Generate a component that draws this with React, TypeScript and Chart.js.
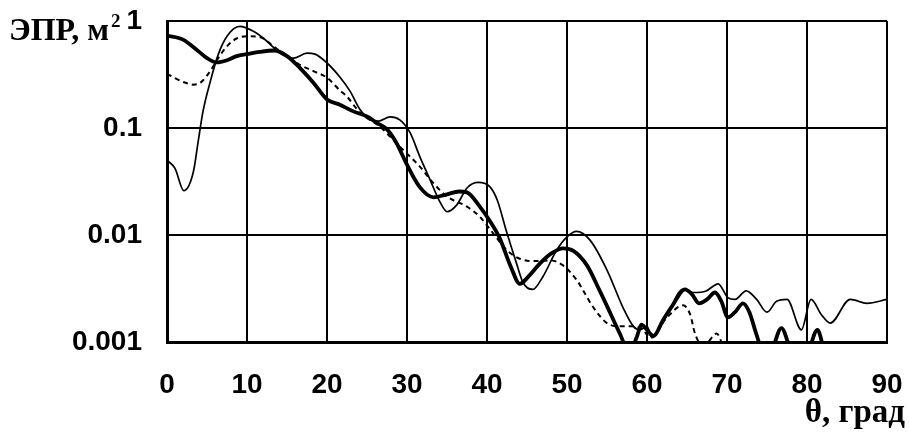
import React, { useEffect, useRef } from "react";
import { Chart, registerables } from "chart.js";

Chart.register(...registerables);

// Thick solid curve
const thickAngles = [0, 2, 3.7, 5, 6.2, 7.5, 8.7, 10, 11.6, 13.4, 15, 16.6, 18.3, 20, 21.6, 23.3, 25, 26.2, 27.5, 28.7, 29.9, 31.6, 33.3, 35, 36.5, 37.5, 39.1, 40.5, 41.6, 43, 44.1, 45.2, 46.6, 48, 49.5, 50.8, 52.5, 54.1, 55.5, 56.6, 57.8, 58.7, 59.3, 60, 60.8, 62, 63.2, 64.75, 65.6, 66.5, 67.5, 68.5, 69.3, 70.1, 71, 72, 72.8, 73.5, 74.3, 75.2, 76, 76.8, 77.6, 78.4, 79.5, 80.5, 81.3, 82.1, 83];
const thickValues = [0.73, 0.67, 0.54, 0.45, 0.41, 0.43, 0.47, 0.49, 0.515, 0.53, 0.47, 0.365, 0.265, 0.185, 0.165, 0.143, 0.128, 0.112, 0.097, 0.072, 0.047, 0.028, 0.0225, 0.024, 0.0255, 0.025, 0.0184, 0.013, 0.0093, 0.005, 0.0035, 0.0041, 0.0054, 0.0067, 0.0075, 0.0071, 0.0052, 0.003, 0.0018, 0.0012, 0.0008, 0.0011, 0.00145, 0.0013, 0.00114, 0.0016, 0.0022, 0.0031, 0.0028, 0.0023, 0.0025, 0.0029, 0.0024, 0.0017, 0.0019, 0.0023, 0.0019, 0.0013, 0.00085, 0.0006, 0.001, 0.00135, 0.001, 0.0006, 0.0005, 0.00095, 0.0013, 0.00085, 0.0005];

// Thin solid curve
const thinAngles = [0, 1, 2.1, 3.3, 3.9, 4.5, 5.4, 6.4, 7.5, 9.1, 10.8, 12.5, 14.1, 15.8, 17.5, 18.5, 20, 21.6, 22.9, 24.1, 25.4, 26.4, 27.9, 29.1, 30.4, 31.6, 32.9, 34.1, 35, 36.2, 37.5, 38.9, 40.4, 41.3, 42.4, 43.7, 44.5, 45.7, 47, 48.7, 50, 51.2, 52.9, 55, 57, 58.3, 59.1, 60, 60.6, 62.5, 64.5, 65.8, 67.4, 68.9, 70.1, 71, 72.4, 73.7, 75, 76.2, 77.5, 79.3, 80.5, 81.8, 82.9, 85.4, 87.5, 90];
const thinValues = [0.05, 0.042, 0.026, 0.039, 0.075, 0.143, 0.27, 0.485, 0.72, 0.89, 0.8, 0.647, 0.503, 0.45, 0.5, 0.49, 0.405, 0.3, 0.22, 0.15, 0.12, 0.116, 0.127, 0.119, 0.09, 0.054, 0.0326, 0.0205, 0.0165, 0.019, 0.0275, 0.031, 0.028, 0.021, 0.011, 0.0054, 0.0036, 0.0031, 0.0041, 0.0072, 0.0096, 0.0108, 0.0089, 0.0047, 0.0021, 0.0014, 0.0013, 0.0014, 0.0011, 0.0018, 0.0031, 0.0029, 0.003, 0.0035, 0.0026, 0.0025, 0.003, 0.0025, 0.0019, 0.0024, 0.0025, 0.0013, 0.0025, 0.0018, 0.0015, 0.0025, 0.0023, 0.0025];

// Dashed curve
const dashAngles = [0, 2, 3.3, 4.3, 5.4, 6.4, 7.5, 8.7, 10.4, 11.6, 13.3, 15, 16.6, 18.3, 20, 21.6, 22.4, 24.1, 26.6, 29.1, 31.6, 33.3, 35, 37.5, 39.1, 40.8, 42.5, 44.1, 46.2, 47.9, 49.5, 51.2, 53.3, 55, 56.6, 58.3, 59.5, 60.4, 62.5, 64.5, 65.4, 66, 66.8, 67.6, 68.7, 69.5, 70.5];
const dashValues = [0.32, 0.27, 0.254, 0.27, 0.34, 0.45, 0.58, 0.686, 0.72, 0.71, 0.58, 0.468, 0.39, 0.34, 0.295, 0.225, 0.2, 0.14, 0.103, 0.067, 0.0436, 0.0305, 0.0229, 0.0184, 0.0148, 0.0103, 0.0072, 0.006, 0.0057, 0.0058, 0.0052, 0.0038, 0.0021, 0.0015, 0.0014, 0.0014, 0.0013, 0.0011, 0.0017, 0.0022, 0.0018, 0.0012, 0.00095, 0.001, 0.0012, 0.0009, 0.0005];

const yTickValues = [0.001, 0.01, 0.1, 1];
const yTickLabels = ["0.001", "0.01", "0.1", "1"];
const yAxisTitle = "ЭПР, м";
const yAxisTitleSup = "2";
const xAxisTitle = "θ, град";

const zip = (xs: number[], ys: number[]) => xs.map((x, i) => ({ x, y: ys[i] }));

const titlesPlugin = {
  id: "titlesPlugin",
  afterDraw(chart: any) {
    const ctx = chart.ctx;
    ctx.save();
    ctx.fillStyle = "#000";
    ctx.textBaseline = "alphabetic";
    ctx.textAlign = "left";
    ctx.font = 'bold 32px "Liberation Serif", serif';
    ctx.fillText(yAxisTitle, 9, 40);
    const w = ctx.measureText(yAxisTitle).width;
    ctx.font = 'bold 19px "Liberation Serif", serif';
    ctx.fillText(yAxisTitleSup, 9 + w + 2, 27);
    ctx.font = 'bold 33px "Liberation Serif", serif';
    ctx.textAlign = "right";
    ctx.fillText(xAxisTitle, 905, 422);
    ctx.restore();
  },
};

export default function App() {
  const ref = useRef<HTMLCanvasElement | null>(null);
  useEffect(() => {
    if (!ref.current) return;
    const tickFont = { family: '"Liberation Sans", Arial, sans-serif', weight: "bold" as const, size: 28 };
    const chart = new Chart(ref.current, {
      type: "line",
      data: {
        datasets: [
          {
            data: zip(thinAngles, thinValues),
            borderColor: "#000",
            borderWidth: 1.7,
            pointRadius: 0,
            cubicInterpolationMode: "monotone",
            clip: 0,
          },
          {
            data: zip(dashAngles, dashValues),
            borderColor: "#000",
            borderWidth: 2,
            borderDash: [5, 4],
            pointRadius: 0,
            cubicInterpolationMode: "monotone",
            clip: 0,
          },
          {
            data: zip(thickAngles, thickValues),
            borderColor: "#000",
            borderWidth: 3.8,
            pointRadius: 0,
            cubicInterpolationMode: "monotone",
            clip: 0,
          },
        ],
      },
      options: {
        responsive: false,
        animation: false,
        layout: { padding: { left: 0, top: 21, right: 22, bottom: 0 } },
        plugins: { legend: { display: false }, tooltip: { enabled: false } },
        scales: {
          x: {
            type: "linear",
            min: 0,
            max: 90,
            ticks: { stepSize: 10, color: "#000", font: tickFont, padding: 0, maxRotation: 0, autoSkip: false },
            grid: { color: "#000", lineWidth: 2, drawTicks: true, tickLength: 26, tickColor: "rgba(0,0,0,0)" },
            border: { color: "#000", width: 3 },
            afterFit: (s: any) => {
              s.height = 92;
            },
          },
          y: {
            type: "logarithmic",
            min: 0.001,
            max: 1,
            ticks: {
              color: "#000",
              font: tickFont,
              padding: 0,
              autoSkip: false,
              callback: (v: any) => {
                const i = yTickValues.findIndex((t) => Math.abs(t - Number(v)) < t * 1e-6);
                return i >= 0 ? yTickLabels[i] : "";
              },
            },
            afterBuildTicks: (s: any) => {
              s.ticks = yTickValues.map((v) => ({ value: v }));
            },
            grid: { color: "#000", lineWidth: 2, drawTicks: true, tickLength: 25, tickColor: "rgba(0,0,0,0)" },
            border: { color: "#000", width: 3 },
            afterFit: (s: any) => {
              s.width = 167;
            },
          },
        },
      },
      plugins: [titlesPlugin],
    } as any);
    return () => chart.destroy();
  }, []);
  return (
    <div style={{ position: "fixed", left: 0, top: 0, width: 909, height: 434, background: "#fff" }}>
      <canvas ref={ref} width={909} height={434} style={{ display: "block" }} />
    </div>
  );
}
